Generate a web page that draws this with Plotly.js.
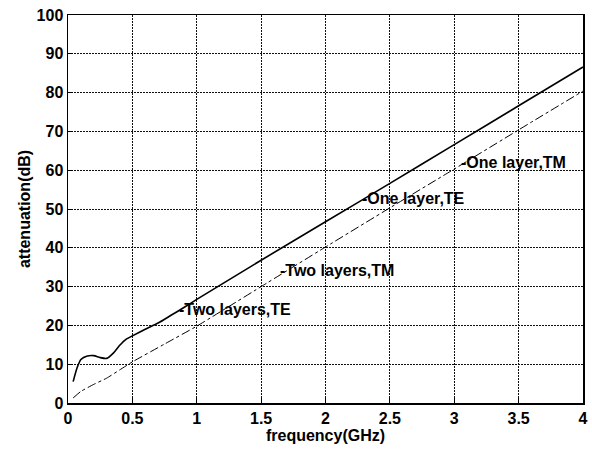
<!DOCTYPE html>
<html>
<head>
<meta charset="utf-8">
<script src="https://cdn.plot.ly/plotly-3.0.1.min.js"></script>
<style>html,body{margin:0;padding:0;background:#fff;}#chart{width:592px;height:452px;}</style>
</head>
<body>
<div id="chart"></div>
<script>
const freqSolid = [0.04, 0.07, 0.1, 0.15, 0.2, 0.25, 0.3, 0.35, 0.4, 0.45, 0.5, 0.6, 0.7, 0.8, 0.9, 1.0, 1.5, 2.0, 2.5, 3.0, 3.5, 4.0];
const attSolid  = [5.5, 9.0, 11.2, 12.1, 12.2, 11.7, 11.5, 12.8, 14.8, 16.4, 17.3, 19.0, 20.6, 22.6, 24.6, 26.7, 36.8, 46.7, 56.6, 66.6, 76.6, 86.6];
const freqDash  = [0.04, 0.1, 0.2, 0.3, 0.4, 0.5, 0.75, 1.0, 1.5, 2.0, 2.5, 3.0, 3.5, 4.0];
const attDash   = [1.3, 3.0, 4.8, 6.4, 8.5, 10.6, 15.2, 19.8, 30.0, 40.2, 50.3, 60.3, 70.4, 80.4];
const labelText = ["-Two layers,TE", "-Two layers,TM", "-One layer,TE", "-One layer,TM"];
const labelX    = [0.85, 1.63, 2.27, 3.04];
const labelY    = [24.2, 34.1, 52.6, 62.0];
const xTicks = [0, 0.5, 1, 1.5, 2, 2.5, 3, 3.5, 4];
const xTickText = ["0", "0.5", "1", "1.5", "2", "2.5", "3", "3.5", "4"];
const yTicks = [0, 10, 20, 30, 40, 50, 60, 70, 80, 90, 100];

const font = "Liberation Sans, Arial, Helvetica, sans-serif";
const traces = [
  {x: freqSolid, y: attSolid, mode: 'lines', line: {color: '#000', width: 1.6, shape: 'spline', smoothing: 0.6}, hoverinfo: 'skip'},
  {x: freqDash, y: attDash, mode: 'lines', line: {color: '#000', width: 1, dash: 'dashdot', shape: 'spline', smoothing: 0.4}, hoverinfo: 'skip'}
];
const annotations = labelText.map((t, i) => ({
  x: labelX[i], y: labelY[i], xref: 'x', yref: 'y', text: '<b>' + t + '</b>',
  showarrow: false, xanchor: 'left', yanchor: 'middle',
  font: {family: font, size: 16, color: '#000'}
}));
const axisCommon = {
  showline: true, linecolor: '#000', linewidth: 1.5, mirror: true,
  ticks: 'inside', ticklen: 5, tickcolor: '#000', tickwidth: 1,
  showgrid: true, gridcolor: '#111', gridwidth: 1, griddash: '2px,1px',
  zeroline: false, tickfont: {family: font, size: 16, color: '#000', weight: 'bold'}
};
const layout = {
  width: 592, height: 452,
  margin: {l: 68, r: 9, t: 15, b: 49},
  paper_bgcolor: '#fff', plot_bgcolor: '#fff',
  showlegend: false,
  xaxis: Object.assign({}, axisCommon, {
    range: [0, 4], tickvals: xTicks, ticktext: xTickText,
    title: {text: '<b>frequency(GHz)</b>', font: {family: font, size: 16, color: '#000'}, standoff: 2}
  }),
  yaxis: Object.assign({}, axisCommon, {
    range: [0, 100], tickvals: yTicks,
    title: {text: '<b>attenuation(dB)</b>', font: {family: font, size: 16, color: '#000'}, standoff: 2}
  }),
  annotations: annotations
};
Plotly.newPlot('chart', traces, layout, {displayModeBar: false, staticPlot: true});
</script>
</body>
</html>
